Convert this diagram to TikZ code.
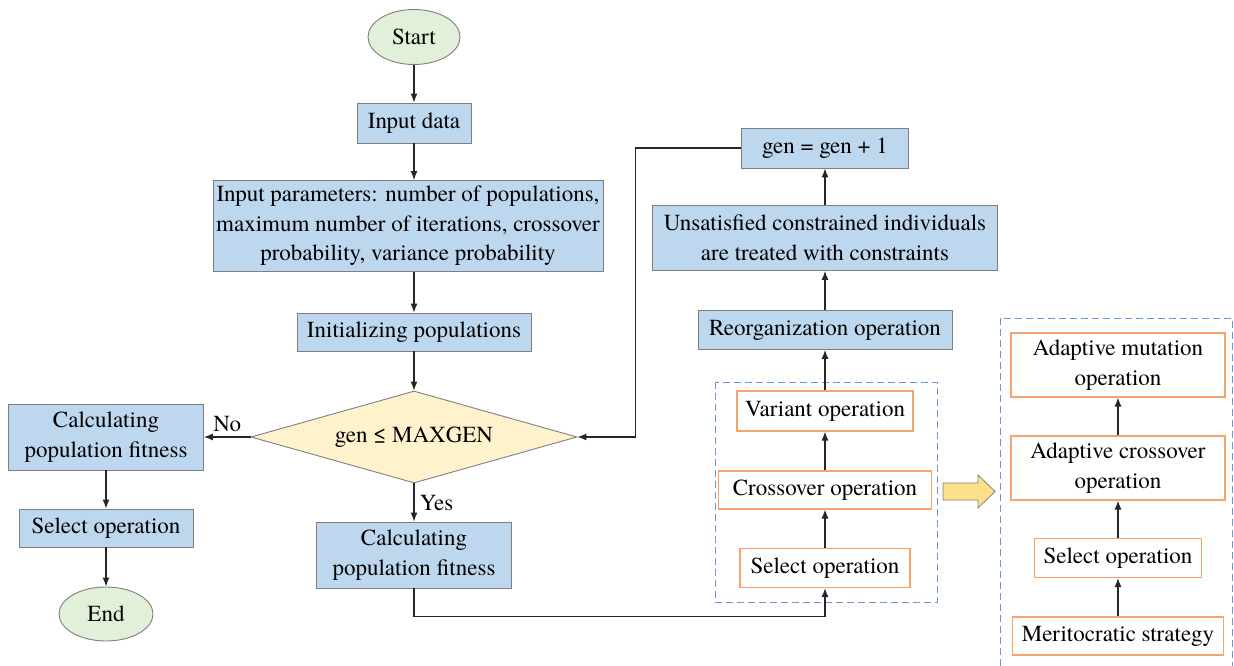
\documentclass[tikz,border=0pt]{standalone}
\usepackage{fontspec}
\setmainfont{TeX Gyre Termes}
\usetikzlibrary{shapes.geometric,arrows.meta}

\definecolor{boxblue}{HTML}{BDD7EE}
\definecolor{termgreen}{HTML}{E2EFD9}
\definecolor{condyellow}{HTML}{FFF2CC}
\definecolor{edgegray}{HTML}{7F7F7F}
\definecolor{oporange}{HTML}{F4A46C}
\definecolor{grpblue}{HTML}{6F94D8}
\definecolor{arrowgold}{HTML}{FFE08A}

\tikzset{
  proc/.style={draw=edgegray, line width=0.9pt, fill=boxblue, align=center, inner sep=2pt},
  term/.style={draw=edgegray, line width=0.9pt, fill=termgreen, ellipse, inner sep=0pt},
  decision/.style={draw=edgegray, line width=0.9pt, fill=condyellow, diamond, aspect=3.5, inner sep=0pt},
  opbox/.style={draw=oporange, line width=1.2pt, fill=white, align=center, inner sep=2pt},
  grpbox/.style={draw=grpblue, line width=1pt, dash pattern=on 7pt off 4pt},
  arr/.style={-{Latex[length=9pt,width=7pt]}, draw=black!85, line width=1.1pt}
}

\begin{document}
\begin{tikzpicture}[x=1pt, y=-1pt, font=\fontsize{23}{29.5}\selectfont]
\useasboundingbox (0,0) rectangle (1234,666);

% main column
\node[term, minimum width=92pt, minimum height=55pt] (start) at (414,37) {Start};
\node[proc, minimum width=114pt, minimum height=40pt] (input) at (414,123) {Input data};
\node[proc, minimum width=390pt, minimum height=91pt] (params) at (408,226)
  {Input parameters: number of populations,\\ maximum number of iterations, crossover\\ probability, variance probability};
\node[proc, minimum width=234pt, minimum height=38pt] (init) at (414,332) {Initializing populations};
\node[decision, minimum width=326pt, minimum height=92pt] (cond) at (414,437) {gen ≤ MAXGEN};
\node[proc, minimum width=195pt, minimum height=66pt] (fitr) at (414,555) {Calculating\\ population fitness};

% exit column
\node[proc, minimum width=195pt, minimum height=66pt] (fitl) at (106,437) {Calculating\\ population fitness};
\node[proc, minimum width=174pt, minimum height=38pt] (sell) at (106,528) {Select operation};
\node[term, minimum width=94pt, minimum height=54pt] (end) at (106,614) {End};

% loop column
\node[proc, minimum width=167pt, minimum height=40pt] (incr) at (825,148) {gen = gen + 1};
\node[proc, minimum width=345pt, minimum height=65pt] (treat) at (825,238)
  {Unsatisfied constrained individuals\\ are treated with constraints};
\node[proc, minimum width=254pt, minimum height=39pt] (reorg) at (825,330) {Reorganization operation};
\node[opbox, minimum width=176pt, minimum height=40pt] (var) at (825,411) {Variant operation};
\node[opbox, minimum width=213pt, minimum height=38pt] (cross) at (825,490) {Crossover operation};
\node[opbox, minimum width=170pt, minimum height=39pt] (sel) at (825,568) {Select operation};
\draw[grpbox] (715,382) rectangle (937,602);

% adaptive operators
\draw[draw=edgegray, fill=arrowgold, line width=0.8pt]
  (943,483) -- (978,483) -- (978,475) -- (995,491.5) -- (978,508) -- (978,500) -- (943,500) -- cycle;
\draw[grpbox] (1000,666) -- (1000,318) -- (1232,318) -- (1232,666);
\node[opbox, minimum width=214pt, minimum height=64pt] (amut) at (1118,365) {Adaptive mutation\\ operation};
\node[opbox, minimum width=214pt, minimum height=64pt] (across) at (1118,468) {Adaptive crossover\\ operation};
\node[opbox, minimum width=167pt, minimum height=39pt] (asel) at (1118,558) {Select operation};
\node[opbox, minimum width=211pt, minimum height=38pt] (merit) at (1118,636) {Meritocratic strategy};

% connectors
\draw[arr] (start) -- (input);
\draw[arr] (input) -- (input |- params.north);
\draw[arr] (init |- params.south) -- (init);
\draw[arr] (init) -- (cond);
\draw[arr] (cond.west) -- node[above, yshift=1pt] {No} (fitl.east);
\draw[arr] (cond.south) -- node[right, xshift=2pt] {Yes} (fitr.north);
\draw[arr] (fitl) -- (sell);
\draw[arr] (sell) -- (end);
\draw[arr] (fitr.south) -- ++(0,28) -| (sel.south);
\draw[arr] (sel) -- (cross);
\draw[arr] (cross) -- (var);
\draw[arr] (var) -- (reorg);
\draw[arr] (reorg) -- (treat);
\draw[arr] (treat) -- (incr);
\draw[arr] (incr.west) -- ++(-106,0) |- (cond.east);
\draw[arr] (merit) -- (asel);
\draw[arr] (asel) -- (across);
\draw[arr] (across) -- (amut);

\end{tikzpicture}
\end{document}
